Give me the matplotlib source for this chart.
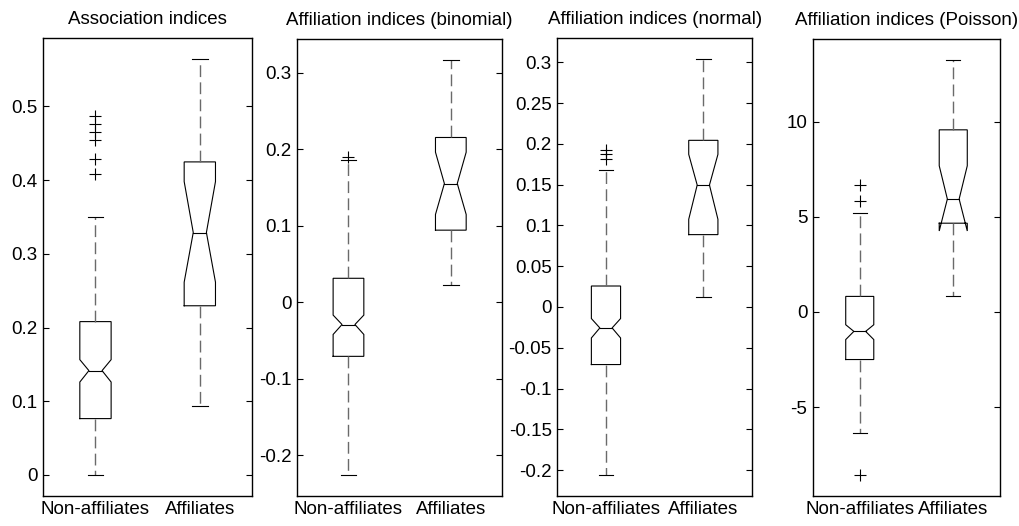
import matplotlib
matplotlib.use("Agg")
import matplotlib.pyplot as plt
from matplotlib.ticker import MultipleLocator, FormatStrFormatter

plt.rcParams['font.family'] = ['Liberation Sans', 'DejaVu Sans']
plt.rcParams['axes.unicode_minus'] = False
plt.rcParams['lines.scale_dashes'] = False

# ---------------- data ----------------
titles = ["Association indices", "Affiliation indices (binomial)",
          "Affiliation indices (normal)", "Affiliation indices (Poisson)"]
categories = ["Non-affiliates", "Affiliates"]

whislo = [[0.0, 0.0935], [-0.2258, 0.0221], [-0.2059, 0.0123], [-6.35, 0.82]]
q1     = [[0.0764, 0.2295], [-0.0708, 0.0941], [-0.0706, 0.0887], [-2.50, 4.67]]
med    = [[0.1415, 0.3289], [-0.0292, 0.1550], [-0.0257, 0.1495], [-1.02, 5.94]]
q3     = [[0.2080, 0.4247], [0.0312, 0.2152], [0.0257, 0.2043], [0.82, 9.58]]
whishi = [[0.3500, 0.5642], [0.1862, 0.3164], [0.1679, 0.3039], [5.21, 13.25]]
cilo   = [[0.1260, 0.2615], [-0.0422, 0.1146], [-0.0380, 0.1075], [-1.45, 4.26]]
cihi   = [[0.1564, 0.3980], [-0.0169, 0.1960], [-0.0142, 0.1871], [-0.67, 7.69]]
fliers = [[[0.408, 0.429, 0.454, 0.465, 0.476, 0.487], []],
          [[0.190], []],
          [[0.181, 0.187, 0.193], []],
          [[-8.57, 5.84, 6.68], []]]
ytick_step = [0.1, 0.1, 0.05, 5]

# ---------------- layout ----------------
W, H = 1019, 526
fig = plt.figure(figsize=(W / 100, H / 100), dpi=100)
# axes boxes in pixels: left, right, top, bottom
boxes_px = [(43.3, 252.0, 38.3, 495.7),
            (297.3, 502.0, 39.3, 495.7),
            (557.3, 752.0, 38.3, 495.7),
            (813.0, 1000.0, 39.3, 495.7)]

BOXW = 0.30
NOTCH = 0.42
FS = 13.5
box_kw = dict(color='k', lw=0.8, solid_joinstyle='miter')
wh_kw = dict(color='#6a6a6a', lw=1.0, linestyle=(0, (8.5, 3.8)))

for i in range(4):
    l, r, t, b = boxes_px[i]
    ax = fig.add_axes([l / W, 1 - b / H, (r - l) / W, (b - t) / H])
    allv = []
    for j in range(2):
        pos = j + 1
        hw = BOXW / 2
        nw = NOTCH * hw
        xs = [pos - hw, pos + hw, pos + hw, pos + nw, pos + hw, pos + hw,
              pos - hw, pos - hw, pos - nw, pos - hw, pos - hw]
        ys = [q1[i][j], q1[i][j], cilo[i][j], med[i][j], cihi[i][j], q3[i][j],
              q3[i][j], cihi[i][j], med[i][j], cilo[i][j], q1[i][j]]
        ax.plot(xs, ys, **box_kw)
        ax.plot([pos - nw, pos + nw], [med[i][j], med[i][j]], **box_kw)
        ax.plot([pos, pos], [q3[i][j], whishi[i][j]], **wh_kw)
        ax.plot([pos, pos], [q1[i][j], whislo[i][j]], **wh_kw)
        ax.plot([pos - hw / 2, pos + hw / 2], [whishi[i][j]] * 2, color='k', lw=0.8)
        ax.plot([pos - hw / 2, pos + hw / 2], [whislo[i][j]] * 2, color='k', lw=0.8)
        if fliers[i][j]:
            ax.plot([pos] * len(fliers[i][j]), fliers[i][j], linestyle='none',
                    marker='+', markersize=8.5, mew=0.8, color='k')
        allv += [whislo[i][j], whishi[i][j]] + fliers[i][j]
    lo, hi = min(allv), max(allv)
    pad = 0.05 * (hi - lo)
    ax.set_ylim(lo - pad, hi + pad)
    ax.set_xlim(0.5, 2.5)
    ax.set_xticks([1, 2])
    ax.set_xticklabels(categories)
    ax.yaxis.set_major_locator(MultipleLocator(ytick_step[i]))
    ax.yaxis.set_major_formatter(FormatStrFormatter('%g'))
    ax.tick_params(axis='x', length=0, pad=4, labelsize=FS)
    ax.tick_params(axis='y', direction='in', length=4, width=0.8, left=True,
                   right=True, pad=4, labelsize=FS)
    for s in ax.spines.values():
        s.set_linewidth(1.0)
    ax.set_title(titles[i], fontsize=FS, pad=10)

fig.savefig("out.png", dpi=100)
